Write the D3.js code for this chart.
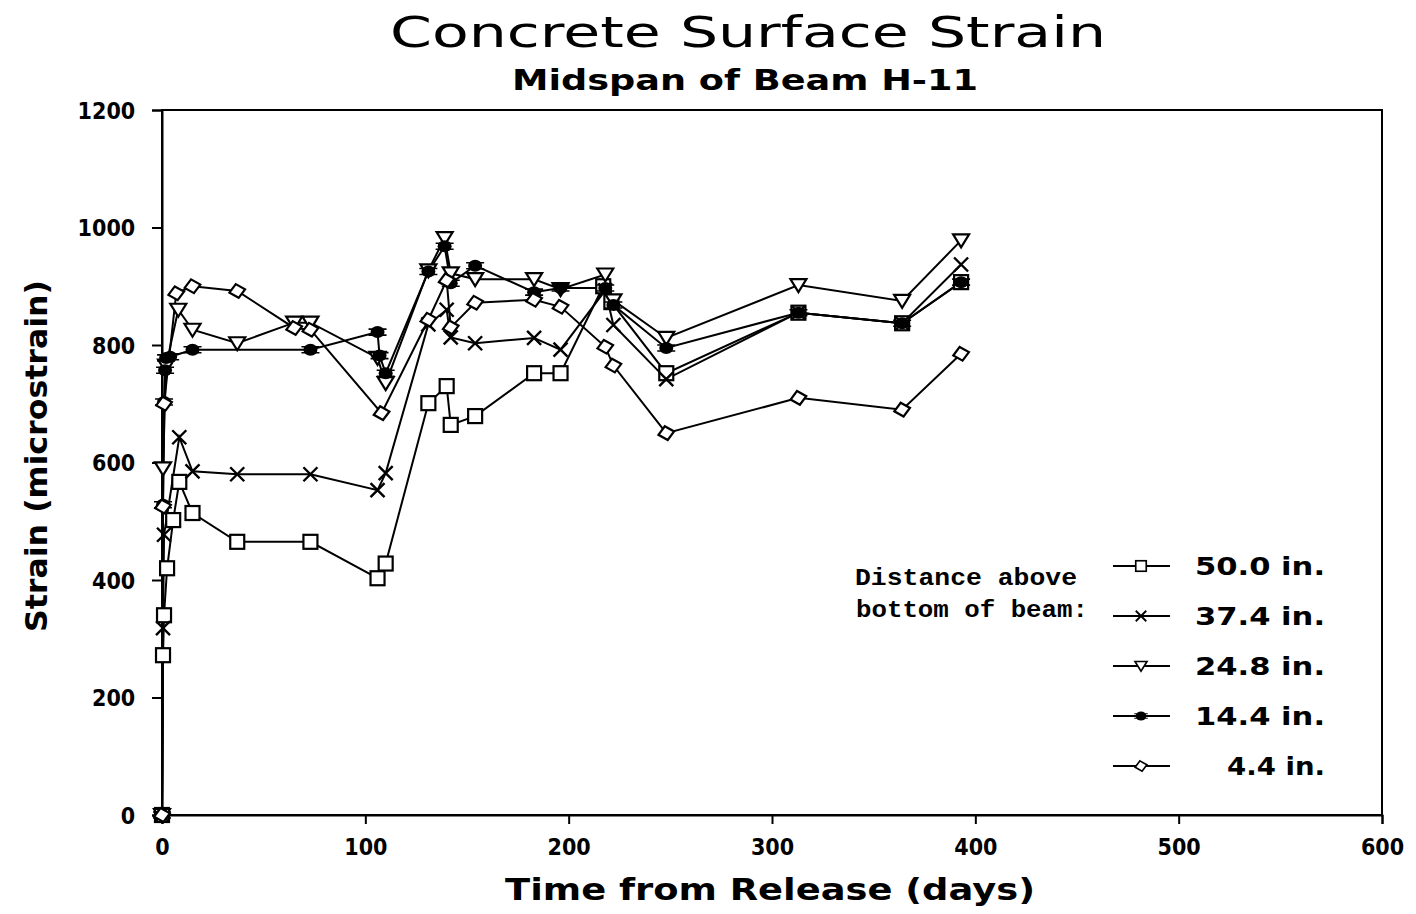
<!DOCTYPE html>
<html>
<head>
<meta charset="utf-8">
<script src="https://cdn.jsdelivr.net/npm/d3@7/dist/d3.min.js"></script>
<style>
  html, body { margin: 0; padding: 0; background: #fff; }
  svg { display: block; }
</style>
</head>
<body>
<svg id="chart" width="1416" height="914"></svg>
<script>
// Surface strain readings (microstrain) vs. days after release, per gauge height
const s50_0 = [[0,0],[0.5,272],[1,340],[2.5,420],[5.5,502],[8.5,567],[15,514],[37,465],[73,465],[106,403],[110,428],[131,701],[140,730],[142,664],[154,679],[183,752],[196,752],[217,900],[221,873],[248,752],[313,855],[364,837],[393,907]];
const s37_4 = [[0,0],[0.5,318],[1,477],[8.5,643],[15,585],[37,580],[73,580],[106,553],[110,582],[131,835],[140,860],[142,813],[154,803],[183,812],[196,792],[218,893],[222,834],[248,742],[313,855],[364,837],[393,937]];
const s24_8 = [[0,0],[0.5,590],[2,765],[8,860],[15,826],[37,803],[65,838],[73,838],[106,778],[110,735],[131,927],[139,982],[142,922],[154,912],[183,912],[196,895],[218,920],[222,876],[248,812],[313,902],[364,875],[393,978]];
const s14_4 = [[0,0],[0.5,528],[1,703],[1.5,757],[2,778],[4,780],[15,792],[73,792],[106,822],[107,782],[110,752],[131,925],[139,968],[142,905],[154,935],[183,890],[196,897],[218,897],[222,868],[248,795],[313,855],[364,837],[393,907]];
const s4_4 = [[0,0],[0.5,525],[1,700],[7,888],[15,900],[37,892],[65,829],[73,826],[108,684],[131,843],[140,910],[142,830],[154,872],[183,877],[196,865],[218,797],[222,765],[248,650],[313,710],[364,690],[393,785]];

const seriesNames = ["50.0 in.", "37.4 in.", "24.8 in.", "14.4 in.", "4.4 in."];
const seriesData = [s50_0, s37_4, s24_8, s14_4, s4_4];
const seriesMarkers = ["square", "cross", "tri", "dot", "diamond"];

const xTicks = [0, 100, 200, 300, 400, 500, 600];
const yTicks = [0, 200, 400, 600, 800, 1000, 1200];

const svg = d3.select("#chart");
const x = d3.scaleLinear().domain([0, 600]).range([162, 1382]);
const y = d3.scaleLinear().domain([0, 1200]).range([815, 110]);

// marker glyphs
function marker(g, kind, cx, cy, k = 1) {
  const s = g.append("g").attr("transform", `translate(${cx},${cy}) scale(${k})`);
  if (kind === "square") {
    s.append("rect").attr("x", -7).attr("y", -7).attr("width", 14).attr("height", 14)
      .attr("fill", "#fff").attr("stroke", "#000").attr("stroke-width", 2.2);
  } else if (kind === "cross") {
    s.append("path").attr("d", "M-7,-7L7,7M-7,7L7,-7")
      .attr("stroke", "#000").attr("stroke-width", 2.4).attr("fill", "none");
  } else if (kind === "tri") {
    s.append("path").attr("d", "M-8,-6L8,-6L0,7Z")
      .attr("fill", "#fff").attr("stroke", "#000").attr("stroke-width", 2.2);
  } else if (kind === "dot") {
    s.append("ellipse").attr("rx", 7).attr("ry", 6).attr("fill", "#000");
    s.append("path").attr("d", "M-9,-3L9,-3M-9,3L9,3")
      .attr("stroke", "#000").attr("stroke-width", 1.6);
  } else if (kind === "diamond") {
    s.append("path").attr("d", "M0,-7L8,0L0,7L-8,0Z")
      .attr("fill", "#fff").attr("stroke", "#000").attr("stroke-width", 2.2)
      .attr("transform", "rotate(-12)");
  }
}

// frame
svg.append("rect").attr("x", x(0)).attr("y", y(1200))
  .attr("width", x(600) - x(0)).attr("height", y(0) - y(1200))
  .attr("fill", "none").attr("stroke", "#000").attr("stroke-width", 2);

// axes
const xAxis = d3.axisBottom(x).tickValues(xTicks).tickSize(9).tickFormat(d3.format("d"));
const yAxis = d3.axisLeft(y).tickValues(yTicks).tickSize(10).tickFormat(d3.format("d"));

const gx = svg.append("g").attr("transform", `translate(0,${y(0)})`).call(xAxis);
const gy = svg.append("g").attr("transform", `translate(${x(0)},0)`).call(yAxis);
[gx, gy].forEach(g => {
  g.select(".domain").attr("stroke", "#000").attr("stroke-width", 2);
  g.selectAll(".tick line").attr("stroke", "#000").attr("stroke-width", 2);
  g.selectAll(".tick text").attr("fill", "#000")
    .style("font-family", "'DejaVu Sans Condensed', 'DejaVu Sans', sans-serif")
    .style("font-weight", "bold").style("font-size", "23px");
});
gx.selectAll(".tick text").attr("dy", "1.2em");
gy.selectAll(".tick text").attr("dx", "-0.6em").attr("dy", "0.35em");

// series
const line = d3.line().x(d => x(d[0])).y(d => y(d[1]));
const plot = svg.append("g");
seriesData.forEach((data, i) => {
  plot.append("path").datum(data).attr("d", line)
    .attr("fill", "none").attr("stroke", "#000").attr("stroke-width", 2);
});
seriesData.forEach((data, i) => {
  data.forEach(d => marker(plot, seriesMarkers[i], x(d[0]), y(d[1])));
});

// titles
svg.append("text").attr("x", 748).attr("y", 47).attr("text-anchor", "middle")
  .style("font-family", "'DejaVu Sans', sans-serif").style("font-size", "42px")
  .attr("textLength", 716).attr("lengthAdjust", "spacingAndGlyphs")
  .text("Concrete Surface Strain");
svg.append("text").attr("x", 745).attr("y", 90).attr("text-anchor", "middle")
  .style("font-family", "'DejaVu Sans', sans-serif").style("font-size", "28px").style("font-weight", "bold")
  .attr("textLength", 466).attr("lengthAdjust", "spacingAndGlyphs")
  .text("Midspan of Beam H-11");
svg.append("text").attr("x", 770).attr("y", 900).attr("text-anchor", "middle")
  .style("font-family", "'DejaVu Sans', sans-serif").style("font-size", "31px").style("font-weight", "bold")
  .attr("textLength", 530).attr("lengthAdjust", "spacingAndGlyphs")
  .text("Time from Release (days)");
svg.append("text").attr("transform", "translate(47,456) rotate(-90)").attr("text-anchor", "middle")
  .style("font-family", "'DejaVu Sans', sans-serif").style("font-size", "30px").style("font-weight", "bold")
  .attr("textLength", 352).attr("lengthAdjust", "spacingAndGlyphs")
  .text("Strain (microstrain)");

// legend
const lg = svg.append("g");
const monoFont = "'Liberation Mono', 'DejaVu Sans Mono', monospace";
lg.append("text").attr("x", 855).attr("y", 585)
  .style("font-family", monoFont).style("font-size", "24px").style("font-weight", "bold")
  .attr("textLength", 222).attr("lengthAdjust", "spacingAndGlyphs")
  .text("Distance above");
lg.append("text").attr("x", 856).attr("y", 617)
  .style("font-family", monoFont).style("font-size", "24px").style("font-weight", "bold")
  .attr("textLength", 232).attr("lengthAdjust", "spacingAndGlyphs")
  .text("bottom of beam:");
seriesNames.forEach((name, i) => {
  const yy = 566 + i * 50;
  lg.append("line").attr("x1", 1113).attr("x2", 1170).attr("y1", yy).attr("y2", yy)
    .attr("stroke", "#000").attr("stroke-width", 2);
  marker(lg, seriesMarkers[i], 1141, yy, 0.75);
  const short = name.length < 8;
  lg.append("text").attr("x", 1325).attr("y", yy + 9).attr("text-anchor", "end")
    .style("font-family", "'DejaVu Sans', sans-serif").style("font-size", "25px").style("font-weight", "bold")
    .attr("textLength", short ? 98 : 130).attr("lengthAdjust", "spacingAndGlyphs")
    .text(name);
});
</script>
</body>
</html>
